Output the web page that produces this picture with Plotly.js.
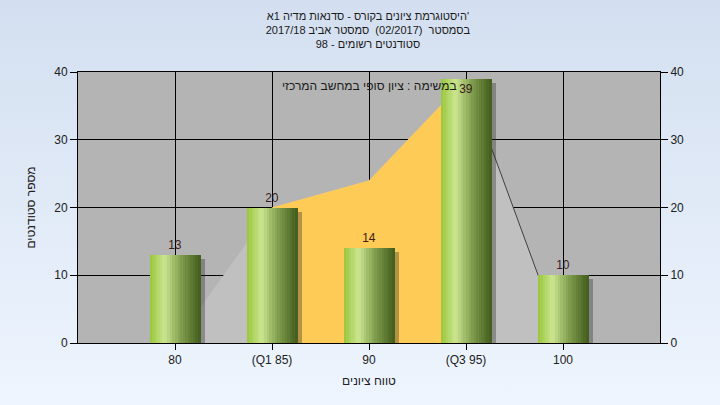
<!DOCTYPE html>
<html>
<head>
<meta charset="utf-8">
<script src="https://cdn.plot.ly/plotly-3.0.1.min.js"></script>
<style>
html,body{margin:0;padding:0;}
body{width:720px;height:405px;background:linear-gradient(to bottom,#d3dff0 0%,#eef5fe 100%);}
#chart{width:720px;height:405px;}
</style>
</head>
<body>
<div id="chart"></div>
<script>
// ---- data ----
const categories = ['80', '(Q1 85)', '90', '(Q3 95)', '100'];
const counts = [13, 20, 14, 39, 10];
const curveValues = [0, 20, 24, 39, 0];          // light grey distribution area
const iqrCategories = ['(Q1 85)', '90', '(Q3 95)'];
const iqrValues = [20, 24, 39];                   // yellow inter-quartile area
const tailCategories = ['(Q3 95)', '100'];
const tailValues = [39, 0];
const yTicks = [0, 10, 20, 30, 40];
const titleLines = [
  "היסטוגרמת ציונים בקורס - סדנאות מדיה 1א'",
  "בסמסטר  (02/2017)  סמסטר אביב 2017/18",
  "סטודנטים רשומים - 98"
];
const noteText = 'במשימה : ציון סופי במחשב המרכזי';
const xTitle = 'טווח ציונים';
const yTitle = 'מספר סטודנטים';

// ---- helpers ----
const pos = c => categories.indexOf(c);
const xs = categories.map((c) => pos(c));

function mix(a, b, t) { return a.map((v, i) => Math.round(v + (b[i] - v) * t)); }
const stops = [[0, [152, 198, 58]], [0.3, [204, 230, 145]], [0.6, [130, 160, 80]], [1, [66, 92, 28]]];
function gradColor(t) {
  for (let i = 0; i < stops.length - 1; i++) {
    if (t <= stops[i + 1][0]) {
      const u = (t - stops[i][0]) / (stops[i + 1][0] - stops[i][0]);
      const c = mix(stops[i][1], stops[i + 1][1], u);
      return 'rgb(' + c.join(',') + ')';
    }
  }
  return 'rgb(' + stops[stops.length - 1][1].join(',') + ')';
}

const barW = 0.52;
const N = 20;
const sliceW = barW / N;
const traces = [];

// areas on base axes (drawn below)
traces.push({ type: 'scatter', x: xs, y: curveValues, mode: 'lines', fill: 'tozeroy',
  fillcolor: '#c0c0c0', line: { width: 0, color: '#c0c0c0' }, hoverinfo: 'skip', showlegend: false });
traces.push({ type: 'scatter', x: iqrCategories.map(pos), y: iqrValues, mode: 'lines', fill: 'tozeroy',
  fillcolor: '#fecb57', line: { width: 0, color: '#fecb57' }, hoverinfo: 'skip', showlegend: false });
traces.push({ type: 'scatter', x: tailCategories.map(pos), y: tailValues, mode: 'lines',
  line: { width: 1, color: '#404040' }, hoverinfo: 'skip', showlegend: false });

// bars on overlaying axes (drawn on top)
traces.push({ type: 'bar', x: xs, y: counts.map(v => v - 0.6), width: barW, offset: -barW / 2 + 0.05,
  xaxis: 'x2', yaxis: 'y2',
  marker: { color: 'rgba(40,40,40,0.35)', line: { width: 0 } }, hoverinfo: 'skip', showlegend: false });

for (let i = 0; i < N; i++) {
  traces.push({ type: 'bar', x: xs, y: counts, width: sliceW + 0.004, offset: -barW / 2 + i * sliceW,
    xaxis: 'x2', yaxis: 'y2',
    marker: { color: gradColor((i + 0.5) / N), line: { width: 0 } }, hoverinfo: 'skip', showlegend: false });
}

traces.push({ type: 'bar', x: xs, y: counts, width: barW, offset: -barW / 2,
  xaxis: 'x2', yaxis: 'y2',
  marker: { color: 'rgba(0,0,0,0)', line: { width: 0 } },
  text: counts.map(String),
  textposition: counts.map(v => v > 35 ? 'inside' : 'outside'),
  insidetextanchor: 'end', constraintext: 'none', cliponaxis: false,
  textfont: { family: 'Liberation Sans, Arial, sans-serif', size: 12, color: '#3a1c1c' },
  hoverinfo: 'skip', showlegend: false });

const font = { family: 'Liberation Sans, Arial, sans-serif', size: 12, color: '#202020' };

const layout = {
  width: 720, height: 405,
  paper_bgcolor: 'rgba(0,0,0,0)',
  plot_bgcolor: '#b4b4b4',
  margin: { l: 78, r: 60, t: 72, b: 62 },
  barmode: 'overlay',
  bargap: 0,
  font: font,
  title: { text: titleLines.join('<br>'), x: 0.511, xanchor: 'center', y: 0.951, yanchor: 'middle',
    font: { family: 'Liberation Sans, Arial, sans-serif', size: 11, color: '#1a1a1a' } },
  xaxis: {
    range: [-1, 5], tickvals: xs, ticktext: categories,
    showgrid: true, gridcolor: '#000000', gridwidth: 1,
    showline: true, linecolor: '#000000', linewidth: 1, mirror: true,
    ticks: 'outside', ticklen: 6, tickcolor: '#000000', zeroline: false,
    tickfont: font,
    title: { text: xTitle, standoff: 10, font: font }
  },
  xaxis2: {
    overlaying: 'x', range: [-1, 5], visible: false, showgrid: false, zeroline: false
  },
  yaxis: {
    range: [0, 40], tickvals: yTicks,
    showgrid: true, gridcolor: '#000000', gridwidth: 1,
    showline: true, linecolor: '#000000', linewidth: 1, mirror: true,
    ticks: 'outside', ticklen: 7, tickcolor: '#000000', zeroline: false,
    tickfont: font,
    title: { text: yTitle, standoff: 16, font: font }
  },
  yaxis2: {
    overlaying: 'y', side: 'right', range: [0, 40], tickvals: yTicks,
    showgrid: false, showline: true, linecolor: '#000000', zeroline: false,
    ticks: 'outside', ticklen: 7, tickcolor: '#000000', tickfont: font
  },
  annotations: [{
    text: noteText, xref: 'paper', yref: 'paper', x: 0.5, y: 0.948,
    xanchor: 'center', yanchor: 'middle', showarrow: false,
    font: { family: 'Liberation Sans, Arial, sans-serif', size: 12, color: '#1a1a1a' }
  }]
};

Plotly.newPlot('chart', traces, layout, { displayModeBar: false, staticPlot: true });
</script>
</body>
</html>
